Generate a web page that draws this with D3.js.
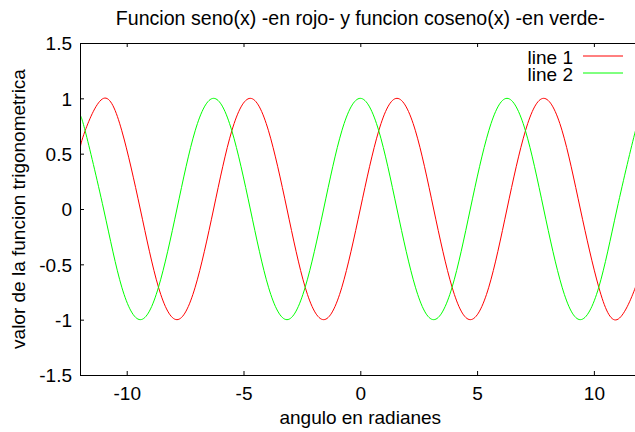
<!DOCTYPE html>
<html>
<head>
<meta charset="utf-8">
<script src="https://cdn.jsdelivr.net/npm/d3@7"></script>
<style>
  html, body { margin: 0; padding: 0; background: #fff; }
  svg { display: block; }
  text { font-family: "Liberation Sans", Arial, Helvetica, sans-serif; fill: #000; }
</style>
</head>
<body>
<svg id="chart" width="635" height="432"></svg>
<script>
// Angle samples (radians) shared by both curves
const angles = [-12, -11.78, -10.99, -10.21, -9.42, -8.64, -7.85, -7.07, -6.28, -5.50,
  -4.71, -3.93, -3.14, -2.36, -1.57, -0.79, 0, 0.79, 1.57, 2.36, 3.14, 3.93, 4.71,
  5.50, 6.28, 7.07, 7.85, 8.64, 9.42, 10.21, 10.99, 11.78, 12];

// line 1: seno(x)
const senoValues = [0.54, 0.707, 1, 0.707, 0, -0.707, -1, -0.707, 0, 0.707,
  1, 0.707, 0, -0.707, -1, -0.707, 0, 0.707, 1, 0.707, 0, -0.707, -1,
  -0.707, 0, 0.707, 1, 0.707, 0, -0.707, -1, -0.707, -0.54];

// line 2: coseno(x)
const cosenoValues = [0.84, 0.707, 0, -0.707, -1, -0.707, 0, 0.707, 1, 0.707,
  0, -0.707, -1, -0.707, 0, 0.707, 1, 0.707, 0, -0.707, -1, -0.707, 0,
  0.707, 1, 0.707, 0, -0.707, -1, -0.707, 0, 0.707, 0.84];

const xTicks = [-10, -5, 0, 5, 10];
const yTicks = [-1.5, -1, -0.5, 0, 0.5, 1, 1.5];
const seriesNames = ["line 1", "line 2"];
const seriesColors = ["#ff0000", "#00ff00"];

const svg = d3.select("#chart");
const plotLeft = 80, plotRight = 640.6, plotTop = 43, plotBottom = 375;

const x = d3.scaleLinear().domain([-12, 12]).range([plotLeft, plotRight]);
const y = d3.scaleLinear().domain([-1.5, 1.5]).range([plotBottom, plotTop]);

// Curves
const series = [senoValues, cosenoValues];
const line = d3.line()
  .x((d, i) => x(angles[i]))
  .y(d => y(d))
  .curve(d3.curveNatural);

svg.append("clipPath").attr("id", "plotClip")
  .append("rect").attr("x", plotLeft).attr("y", plotTop)
  .attr("width", plotRight - plotLeft).attr("height", plotBottom - plotTop);

svg.append("g").attr("clip-path", "url(#plotClip)")
  .selectAll("path.curve").data(series).join("path")
  .attr("class", "curve")
  .attr("fill", "none")
  .attr("stroke", (d, i) => seriesColors[i])
  .attr("stroke-width", 1)
  .attr("d", line);

// Axes (inward ticks, mirrored on top and right)
const fmt = d => (d === 0 ? "0" : String(d));
const tickStyle = g => {
  g.select(".domain").attr("stroke", "#000").attr("stroke-width", 1);
  g.selectAll(".tick line").attr("stroke", "#000");
  g.selectAll("text").style("font-size", "19px")
    .style("font-family", '"Liberation Sans", Arial, sans-serif').attr("fill", "#000");
};

svg.append("g")
  .attr("transform", `translate(0,${plotBottom})`)
  .call(d3.axisBottom(x).tickValues(xTicks).tickFormat(fmt).tickSizeInner(-4).tickSizeOuter(0).tickPadding(0))
  .call(tickStyle)
  .call(g => g.selectAll(".tick text").attr("y", 25).attr("dy", 0));

svg.append("g")
  .attr("transform", `translate(0,${plotTop})`)
  .call(d3.axisTop(x).tickValues(xTicks).tickFormat("").tickSizeInner(-4).tickSizeOuter(0))
  .call(tickStyle);

svg.append("g")
  .attr("transform", `translate(${plotLeft},0)`)
  .call(d3.axisLeft(y).tickValues(yTicks).tickFormat(fmt).tickSizeInner(-4).tickSizeOuter(0).tickPadding(0))
  .call(tickStyle)
  .call(g => g.selectAll(".tick text").attr("x", -8).attr("dy", "0.36em"));

svg.append("g")
  .attr("transform", `translate(${plotRight},0)`)
  .call(d3.axisRight(y).tickValues(yTicks).tickFormat("").tickSizeInner(-4).tickSizeOuter(0))
  .call(tickStyle);

// Titles
svg.append("text")
  .attr("x", (plotLeft + plotRight) / 2).attr("y", 25)
  .attr("text-anchor", "middle").style("font-size", "19.6px")
  .text("Funcion seno(x) -en rojo- y funcion coseno(x) -en verde-");

svg.append("text")
  .attr("x", (plotLeft + plotRight) / 2).attr("y", 424)
  .attr("text-anchor", "middle").style("font-size", "19px")
  .text("angulo en radianes");

svg.append("text")
  .attr("transform", `translate(25,${(plotTop + plotBottom) / 2}) rotate(-90)`)
  .attr("text-anchor", "middle").style("font-size", "19px")
  .text("valor de la funcion trigonometrica");

// Key
const key = svg.append("g");
seriesNames.forEach((name, i) => {
  const yy = 64 + i * 17;
  key.append("text")
    .attr("x", 573).attr("y", yy)
    .attr("text-anchor", "end").style("font-size", "19px")
    .text(name);
  key.append("line")
    .attr("x1", 583).attr("x2", 623)
    .attr("y1", yy - 8).attr("y2", yy - 8)
    .attr("stroke", seriesColors[i]).attr("stroke-width", 1);
});
</script>
</body>
</html>
